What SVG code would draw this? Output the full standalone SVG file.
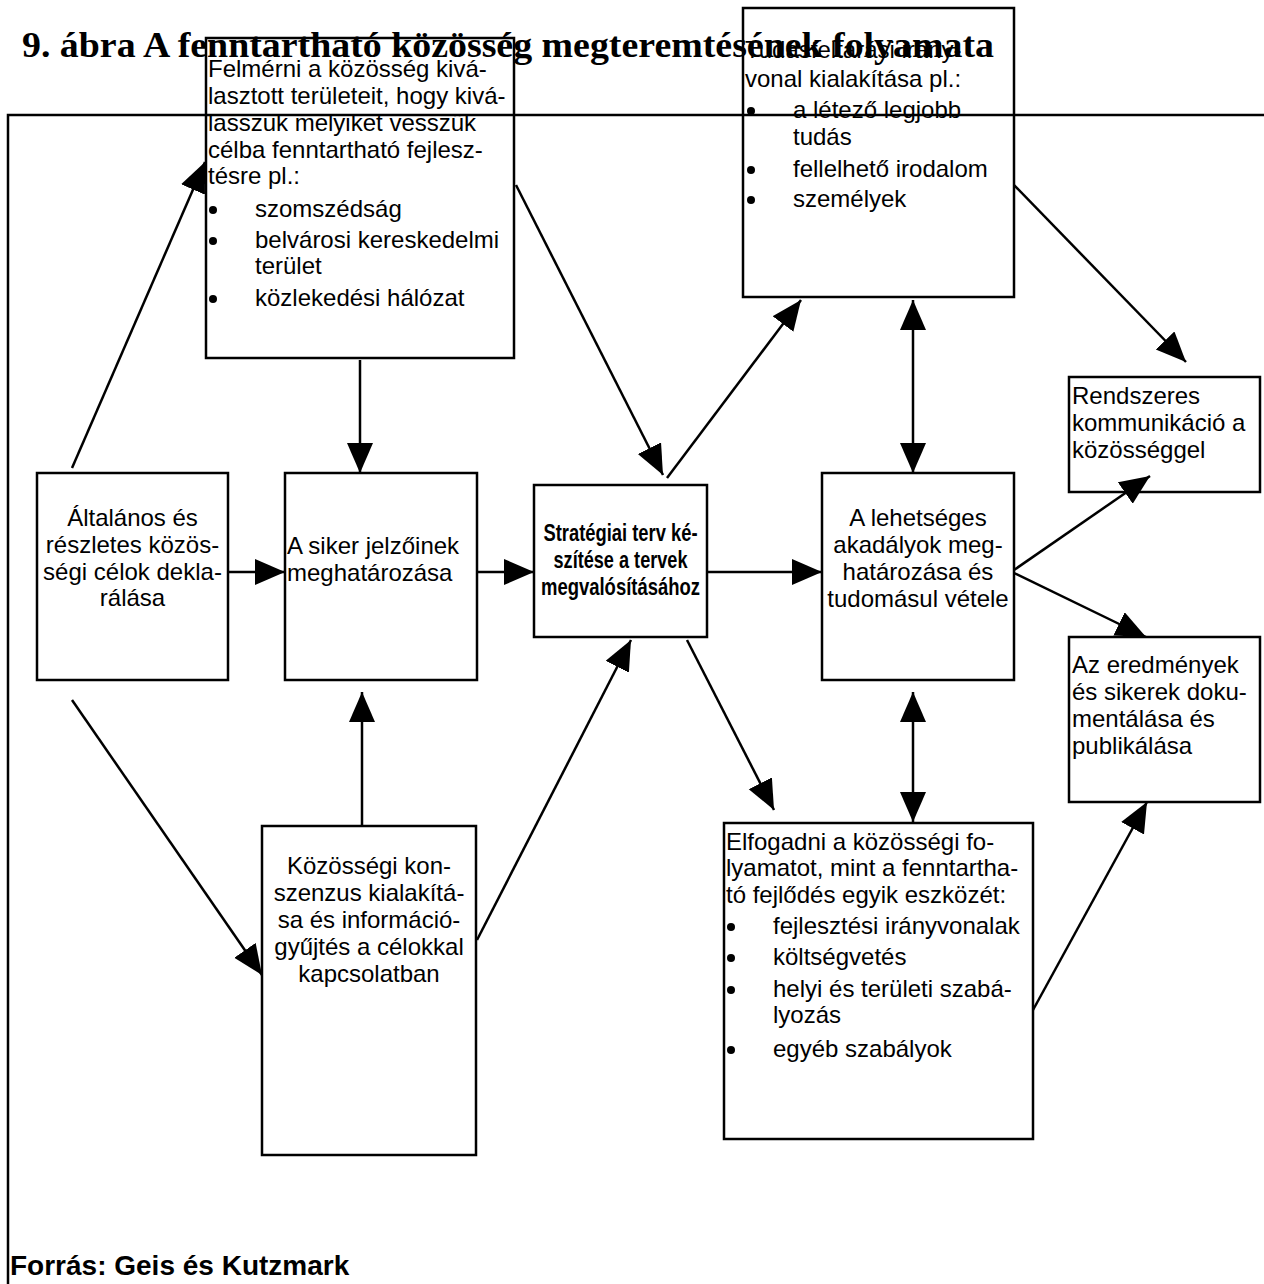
<svg xmlns="http://www.w3.org/2000/svg" width="1264" height="1284" viewBox="0 0 1264 1284">
  <defs>
    <style>
      .box { fill: none; stroke: #000; stroke-width: 2.5; }
      .frame { fill: none; stroke: #000; stroke-width: 2.5; }
      .t { font-family: "Liberation Sans", Arial, sans-serif; font-size: 24px; fill: #000; }
      .c { text-anchor: middle; }
      .b { font-weight: bold; }
      .title { font-family: "Liberation Serif", "Times New Roman", serif; font-size: 36px; font-weight: bold; fill: #000; }
      .src { font-family: "Liberation Sans", Arial, sans-serif; font-size: 28px; font-weight: bold; fill: #000; }
      .edge { fill: none; stroke: #000; stroke-width: 2.5; marker-end: url(#head); }
      .both { marker-start: url(#head); }
    </style>
    <marker id="head" markerUnits="userSpaceOnUse" markerWidth="32" markerHeight="28" refX="30" refY="13" orient="auto-start-reverse">
      <path d="M0,0 L30,13 L0,26 z" fill="#000"/>
    </marker>
  </defs>

  <rect width="1264" height="1284" fill="#fff"/>

  <!-- connectors -->
  <g id="connectors">
    <line class="edge" x1="72" y1="468" x2="205" y2="162"/>
    <line class="edge" x1="360" y1="360" x2="360" y2="473"/>
    <line class="edge" x1="516" y1="185" x2="663" y2="475"/>
    <line class="edge" x1="228" y1="572" x2="285" y2="572"/>
    <line class="edge" x1="477" y1="572" x2="534" y2="572"/>
    <line class="edge" x1="707" y1="572" x2="822" y2="572"/>
    <line class="edge" x1="667" y1="478" x2="801" y2="300"/>
    <line class="edge both" x1="913" y1="300" x2="913" y2="473"/>
    <line class="edge" x1="1014" y1="185" x2="1186" y2="362"/>
    <line class="edge" x1="1014" y1="570" x2="1150" y2="476"/>
    <line class="edge" x1="1014" y1="573" x2="1146" y2="637"/>
    <line class="edge" x1="72" y1="700" x2="262" y2="975"/>
    <line class="edge" x1="362" y1="826" x2="362" y2="692"/>
    <line class="edge" x1="477" y1="940" x2="631" y2="640"/>
    <line class="edge" x1="687" y1="640" x2="774" y2="810"/>
    <line class="edge both" x1="913" y1="692" x2="913" y2="822"/>
    <line class="edge" x1="1033" y1="1010" x2="1147" y2="802"/>
  </g>

  <!-- survey of community areas -->
  <g id="node-felmerni">
    <rect class="box" x="206" y="38" width="308" height="320"/>
    <text class="t" x="208" y="77">Felmérni a közösség kivá-</text>
    <text class="t" x="208" y="104">lasztott területeit, hogy kivá-</text>
    <text class="t" x="208" y="131">lasszuk melyiket vesszük</text>
    <text class="t" x="208" y="158">célba fenntartható fejlesz-</text>
    <text class="t" x="208" y="184">tésre pl.:</text>
    <circle cx="213" cy="210" r="4"/>
    <text class="t" x="255" y="217">szomszédság</text>
    <circle cx="213" cy="241" r="4"/>
    <text class="t" x="255" y="248">belvárosi kereskedelmi</text>
    <text class="t" x="255" y="274">terület</text>
    <circle cx="213" cy="299" r="4"/>
    <text class="t" x="255" y="306">közlekedési hálózat</text>
  </g>

  <!-- knowledge guideline box -->
  <g id="node-iranyvonal">
    <rect class="box" x="743" y="8" width="271" height="289"/>
    <text class="t" x="745" y="58">Tudásfeltárási irány-</text>
    <text class="t" x="745" y="87">vonal kialakítása pl.:</text>
    <circle cx="751" cy="111" r="4"/>
    <text class="t" x="793" y="118">a létező legjobb</text>
    <text class="t" x="793" y="145">tudás</text>
    <circle cx="751" cy="170" r="4"/>
    <text class="t" x="793" y="177">fellelhető irodalom</text>
    <circle cx="751" cy="200" r="4"/>
    <text class="t" x="793" y="207">személyek</text>
  </g>

  <!-- title, printed across the boxes -->
  <text class="title" x="22" y="57" textLength="972" lengthAdjust="spacingAndGlyphs">9. ábra A fenntartható közösség megteremtésének folyamata</text>

  <g id="node-rendszeres">
    <rect class="box" x="1069" y="377" width="191" height="115"/>
    <text class="t" x="1072" y="404">Rendszeres</text>
    <text class="t" x="1072" y="431">kommunikáció a</text>
    <text class="t" x="1072" y="458">közösséggel</text>
  </g>

  <g id="node-altalanos">
    <rect class="box" x="37" y="473" width="191" height="207"/>
    <text class="t c" x="132.5" y="526">Általános és</text>
    <text class="t c" x="132.5" y="553">részletes közös-</text>
    <text class="t c" x="132.5" y="580">ségi célok dekla-</text>
    <text class="t c" x="132.5" y="606">rálása</text>
  </g>

  <g id="node-siker">
    <rect class="box" x="285" y="473" width="192" height="207"/>
    <text class="t" x="287" y="554">A siker jelzőinek</text>
    <text class="t" x="287" y="581">meghatározása</text>
  </g>

  <g id="node-strategia">
    <rect class="box" x="534" y="485" width="173" height="152"/>
    <text class="t c b" x="620.5" y="541" textLength="154" lengthAdjust="spacingAndGlyphs">Stratégiai terv ké-</text>
    <text class="t c b" x="620.5" y="568" textLength="134" lengthAdjust="spacingAndGlyphs">szítése a tervek</text>
    <text class="t c b" x="620.5" y="595" textLength="159" lengthAdjust="spacingAndGlyphs">megvalósításához</text>
  </g>

  <g id="node-akadalyok">
    <rect class="box" x="822" y="473" width="192" height="207"/>
    <text class="t c" x="918" y="526">A lehetséges</text>
    <text class="t c" x="918" y="553">akadályok meg-</text>
    <text class="t c" x="918" y="580">határozása és</text>
    <text class="t c" x="918" y="607">tudomásul vétele</text>
  </g>

  <g id="node-eredmenyek">
    <rect class="box" x="1069" y="637" width="191" height="165"/>
    <text class="t" x="1072" y="673">Az eredmények</text>
    <text class="t" x="1072" y="700">és sikerek doku-</text>
    <text class="t" x="1072" y="727">mentálása és</text>
    <text class="t" x="1072" y="754">publikálása</text>
  </g>

  <g id="node-konszenzus">
    <rect class="box" x="262" y="826" width="214" height="329"/>
    <text class="t c" x="369" y="874">Közösségi kon-</text>
    <text class="t c" x="369" y="901">szenzus kialakítá-</text>
    <text class="t c" x="369" y="928">sa és információ-</text>
    <text class="t c" x="369" y="955">gyűjtés a célokkal</text>
    <text class="t c" x="369" y="982">kapcsolatban</text>
  </g>

  <g id="node-elfogadni">
    <rect class="box" x="724" y="823" width="309" height="316"/>
    <text class="t" x="726" y="850">Elfogadni a közösségi fo-</text>
    <text class="t" x="726" y="876">lyamatot, mint a fenntartha-</text>
    <text class="t" x="726" y="903">tó fejlődés egyik eszközét:</text>
    <circle cx="731" cy="927" r="4"/>
    <text class="t" x="773" y="934">fejlesztési irányvonalak</text>
    <circle cx="731" cy="958" r="4"/>
    <text class="t" x="773" y="965">költségvetés</text>
    <circle cx="731" cy="990" r="4"/>
    <text class="t" x="773" y="997">helyi és területi szabá-</text>
    <text class="t" x="773" y="1023">lyozás</text>
    <circle cx="731" cy="1050" r="4"/>
    <text class="t" x="773" y="1057">egyéb szabályok</text>
  </g>

  <text class="src" x="10" y="1275">Forrás: Geis és Kutzmark</text>

  <!-- outer frame: top rule and left edge, drawn last so it runs across the boxes -->
  <path class="frame" d="M8,1284 L8,115 L1264,115"/>
</svg>
